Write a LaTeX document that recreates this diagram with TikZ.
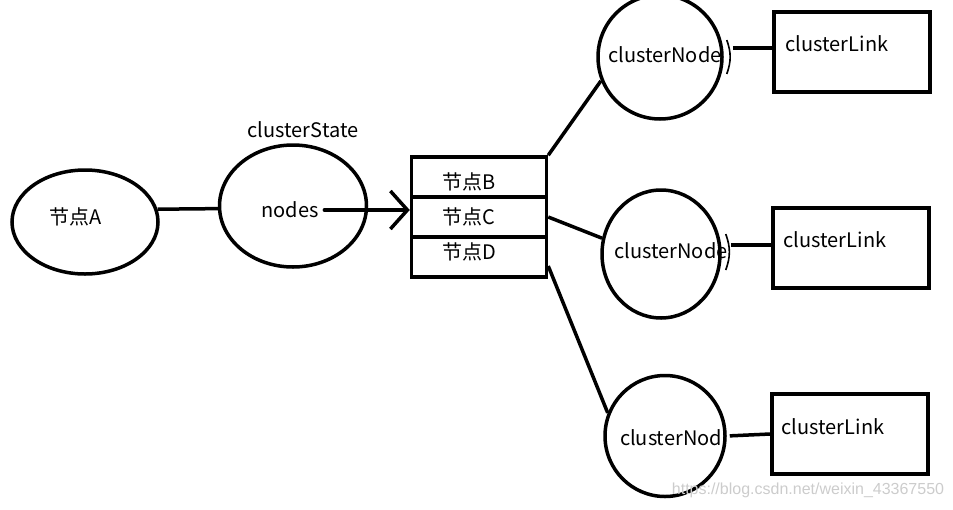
\documentclass[tikz,border=0pt]{standalone}
\usepackage{fontspec}
\newfontfamily\cjk{Noto Sans CJK SC}
\newfontfamily\wmfont{Liberation Sans}
\usetikzlibrary{arrows.meta,shapes.geometric}

\begin{document}
\begin{tikzpicture}[x=1pt,y=-1pt,line width=3.5pt,
    oval/.style={draw,ellipse,inner sep=0pt},
    cell/.style={draw,rectangle,minimum width=135pt,minimum height=40pt,inner sep=0pt},
    linkbox/.style={draw,rectangle,minimum width=156pt,minimum height=80pt,inner sep=0pt},
    txt/.style={font=\cjk\fontsize{20}{22}\selectfont,inner sep=0pt},
    openarrow/.style={-{Straight Barb[length=17pt,width=38pt]}},
    parenmark/.style={line width=1.6pt,bend left=20}]
      \useasboundingbox (0,0) rectangle (953,509);

      % left side
      \node[oval,minimum width=146pt,minimum height=104pt] (a) at (85,222) {};
      \node[oval,minimum width=147pt,minimum height=122pt] (cs) at (293,206) {};
      \node[txt] (atext) at (76,217) {节点A};
      \node[txt] (nodes) at (290,210) {nodes};
      \node[txt] (cslabel) at (303,130) {clusterState};

      % the list
      \node[cell] (b) at (479,177) {};
      \node[cell] (c) at (479,217) {};
      \node[cell] (d) at (479,257) {};
      \node[txt] (btext) at (469,182) {节点B};
      \node[txt] (ctext) at (469,217) {节点C};
      \node[txt] (dtext) at (469,252) {节点D};

      % cluster nodes and links
      \node[oval,minimum width=124pt,minimum height=124pt] (n1) at (660,57) {};
      \node[oval,minimum width=118pt,minimum height=128pt] (n2) at (661,254) {};
      \node[oval,minimum width=120pt,minimum height=121pt] (n3) at (665,436) {};
      \node[txt] (n1text) at (665,55) {clusterNode};
      \node[txt] (n2text) at (671,251) {clusterNode};
      \node[txt] (n3text) at (671,438) {clusterNod};
      \node[linkbox] (l1) at (852,52) {};
      \node[linkbox] (l2) at (851,248) {};
      \node[linkbox] (l3) at (850,434) {};
      \node[txt] (l1text) at (837,44) {clusterLink};
      \node[txt] (l2text) at (835,240) {clusterLink};
      \node[txt] (l3text) at (833,427) {clusterLink};

      \draw (a.10) -- (cs.182);
      \draw[openarrow,line cap=round,shorten <=4pt] (nodes.east) -- ([yshift=7pt]c.west);
      \draw (b.north east) -- (n1.202);
      \draw (c.east) -- (n2.165);
      \draw ([yshift=-9pt]d.east) -- (n3.158);
      \draw[shorten <=9pt] ([yshift=9pt]n1.east) -- ([yshift=4pt]l1.west);
      \draw[shorten <=9pt] ([yshift=9pt]n2.east) -- ([yshift=3pt]l2.west);
      \draw[shorten <=3pt] (n3.east) -- (l3.west);
      \draw[parenmark] ([shift={(3pt,17pt)}]n1.east) to ([shift={(3pt,-17pt)}]n1.east);
      \draw[parenmark] ([shift={(4pt,20pt)}]n2.east) to ([shift={(4pt,-16pt)}]n2.east);

      \node[text=gray!40,font=\wmfont\fontsize{16}{18}\selectfont,inner sep=0pt] (wm) at (808,490) {https://blog.csdn.net/weixin\_43367550};
    \end{tikzpicture}
\end{document}
